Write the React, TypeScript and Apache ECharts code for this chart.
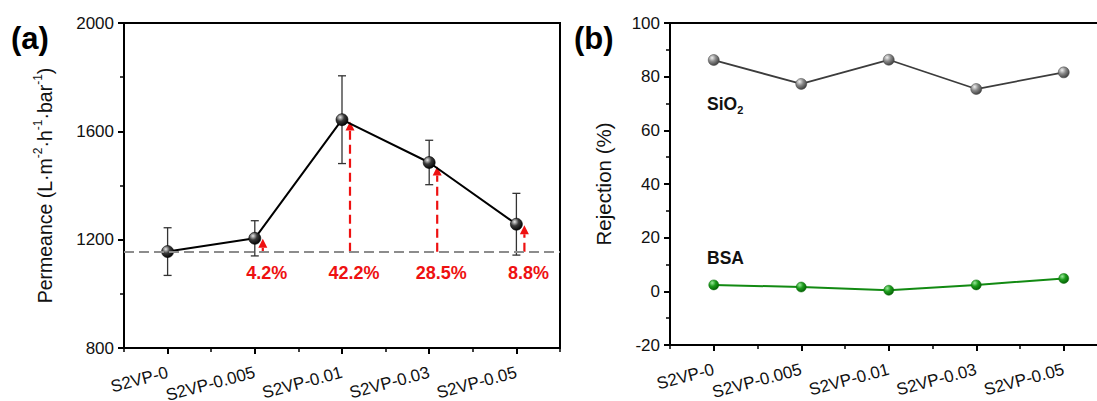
import React, { useEffect, useRef } from "react";
import * as echarts from "echarts";

const categories = ["S2VP-0", "S2VP-0.005", "S2VP-0.01", "S2VP-0.03", "S2VP-0.05"];
const permeance = [1156, 1205, 1643, 1485, 1257];
const permeanceErr = [88, 65, 162, 82, 114];
const baseline = 1155;
const arrowCats = [1, 2, 3, 4];
const arrowTops = [1203, 1636, 1470, 1253];
const increaseLabels = ["4.2%", "42.2%", "28.5%", "8.8%"];
const sio2Rejection = [86.2, 77.3, 86.3, 75.4, 81.6];
const bsaRejection = [2.4, 1.6, 0.4, 2.4, 4.8];

const FONT = "'Liberation Sans', Arial, sans-serif";
const RED = "#ee1111";

const GA = { left: 124, top: 23, width: 436, height: 325 };
const GB = { left: 670, top: 23, width: 437.5, height: 322 };

const sphere = (light: string, mid: string, dark: string) =>
  new echarts.graphic.RadialGradient(0.35, 0.3, 0.75, [
    { offset: 0, color: light },
    { offset: 0.45, color: mid },
    { offset: 1, color: dark },
  ]);

const lineBlack = { show: true, onZero: false, lineStyle: { color: "#000", width: 2 } };

const mainX = (gridIndex: number) => ({
  gridIndex,
  type: "category",
  data: categories,
  boundaryGap: true,
  axisLine: lineBlack,
  splitLine: { show: false },
  axisTick: { show: true, alignWithLabel: true, length: 6, lineStyle: { color: "#000", width: 2 } },
  axisLabel: { rotate: 15, fontSize: 17, margin: 24, color: "#111", fontFamily: FONT },
});

const minorX = (gridIndex: number) => ({
  gridIndex,
  type: "category",
  data: categories,
  position: "bottom",
  boundaryGap: true,
  axisLine: { show: false, onZero: false },
  axisTick: { show: true, alignWithLabel: false, length: 4, lineStyle: { color: "#000", width: 1.5 } },
  axisLabel: { show: false },
  splitLine: { show: false },
});

const bar = (x: number, y: number, width: number, height: number) => ({
  type: "rect",
  x,
  y,
  shape: { x: 0, y: 0, width, height },
  style: { fill: "#000", stroke: "#000", lineWidth: 0 },
});

export default function App() {
  const ref = useRef<HTMLDivElement>(null);
  useEffect(() => {
    const chart = echarts.init(ref.current!, null, { renderer: "svg" });
    const labelLevel = 1076;
    const option: any = {
      animation: false,
      backgroundColor: "#fff",
      textStyle: { fontFamily: FONT },
      grid: [
        { ...GA, containLabel: false, outerBoundsMode: "none" },
        { ...GB, containLabel: false, outerBoundsMode: "none" },
      ],
      xAxis: [mainX(0), minorX(0), mainX(1), minorX(1)],
      yAxis: [
        {
          gridIndex: 0,
          type: "value",
          min: 800,
          max: 2000,
          interval: 400,
          axisLine: lineBlack,
          splitLine: { show: false },
          axisTick: { show: true, length: 6, lineStyle: { color: "#000", width: 2 } },
          minorTick: { show: true, splitNumber: 2, length: 4, lineStyle: { color: "#000", width: 1.5 } },
          axisLabel: { fontSize: 17, margin: 10, color: "#111", fontFamily: FONT, formatter: (v: number) => String(v) },
          name: "Permeance (L·m{sup|-2}·h{sup|-1}·bar{sup|-1})",
          nameLocation: "middle",
          nameGap: 66,
          nameTextStyle: {
            fontSize: 19.5,
            color: "#111",
            fontFamily: FONT,
            lineHeight: 26,
            rich: { sup: { fontSize: 12, lineHeight: 12, verticalAlign: "top", color: "#111", fontFamily: FONT } },
          },
        },
        {
          gridIndex: 1,
          type: "value",
          min: -20,
          max: 100,
          interval: 20,
          axisLine: lineBlack,
          splitLine: { show: false },
          axisTick: { show: true, length: 6, lineStyle: { color: "#000", width: 2 } },
          minorTick: { show: true, splitNumber: 2, length: 4, lineStyle: { color: "#000", width: 1.5 } },
          axisLabel: { fontSize: 17, margin: 10, color: "#111", fontFamily: FONT, formatter: (v: number) => String(v) },
          name: "Rejection (%)",
          nameLocation: "middle",
          nameGap: 56,
          nameTextStyle: { fontSize: 20.5, color: "#111", fontFamily: FONT },
        },
      ],
      series: [
        {
          type: "custom",
          xAxisIndex: 0,
          yAxisIndex: 0,
          z: 2,
          data: categories.map((_, i) => [i, permeance[i] - permeanceErr[i], permeance[i] + permeanceErr[i]]),
          renderItem: (_p: any, api: any) => {
            const lo = api.coord([api.value(0), api.value(1)]);
            const hi = api.coord([api.value(0), api.value(2)]);
            const w = 4;
            const st = { stroke: "#333", lineWidth: 1.3 };
            return {
              type: "group",
              children: [
                { type: "line", shape: { x1: hi[0], y1: hi[1], x2: lo[0], y2: lo[1] }, style: st },
                { type: "line", shape: { x1: hi[0] - w, y1: hi[1], x2: hi[0] + w, y2: hi[1] }, style: st },
                { type: "line", shape: { x1: lo[0] - w, y1: lo[1], x2: lo[0] + w, y2: lo[1] }, style: st },
              ],
            };
          },
        },
        {
          type: "line",
          xAxisIndex: 0,
          yAxisIndex: 0,
          z: 4,
          data: permeance,
          symbol: "circle",
          symbolSize: 12,
          lineStyle: { color: "#000", width: 2 },
          itemStyle: { color: sphere("#e8e8e8", "#3a3a3a", "#000"), borderColor: "#000", borderWidth: 0.6 },
          markLine: {
            silent: true,
            symbol: "none",
            label: { show: false },
            lineStyle: { type: [10, 5], color: "#8c8c8c", width: 2 },
            data: [{ yAxis: baseline }],
          },
        },
        {
          type: "custom",
          xAxisIndex: 0,
          yAxisIndex: 0,
          z: 3,
          data: arrowCats.map((c, k) => [c, baseline, arrowTops[k]]),
          renderItem: (_p: any, api: any) => {
            const b = api.coord([api.value(0), api.value(1)]);
            const t = api.coord([api.value(0), api.value(2)]);
            const x = b[0] + 8;
            const head = 9;
            const hw = 4.5;
            return {
              type: "group",
              children: [
                {
                  type: "line",
                  shape: { x1: x, y1: b[1], x2: x, y2: t[1] + head },
                  style: { stroke: RED, lineWidth: 2.2, lineDash: [9, 5] },
                },
                {
                  type: "polygon",
                  shape: { points: [[x, t[1]], [x - hw, t[1] + head], [x + hw, t[1] + head]] },
                  style: { fill: RED },
                },
              ],
            };
          },
        },
        {
          type: "custom",
          xAxisIndex: 0,
          yAxisIndex: 0,
          z: 3,
          data: arrowCats.map((c) => [c, labelLevel]),
          renderItem: (p: any, api: any) => {
            const pt = api.coord([api.value(0), api.value(1)]);
            return {
              type: "text",
              x: pt[0] + 12,
              y: pt[1],
              style: {
                text: increaseLabels[p.dataIndex],
                fill: RED,
                font: `bold 18px ${FONT}`,
                align: "center",
                verticalAlign: "middle",
              },
            };
          },
        },
        {
          type: "line",
          xAxisIndex: 2,
          yAxisIndex: 1,
          z: 4,
          data: sio2Rejection,
          symbol: "circle",
          symbolSize: 11,
          lineStyle: { color: "#3c3c3c", width: 1.8 },
          itemStyle: { color: sphere("#f0f0f0", "#8a8a8a", "#3a3a3a"), borderColor: "#444", borderWidth: 0.5 },
        },
        {
          type: "line",
          xAxisIndex: 2,
          yAxisIndex: 1,
          z: 4,
          data: bsaRejection,
          symbol: "circle",
          symbolSize: 10,
          lineStyle: { color: "#128a12", width: 2 },
          itemStyle: { color: sphere("#9be89b", "#1c9c1c", "#035d03"), borderColor: "#0a6a0a", borderWidth: 0.5 },
        },
      ],
      graphic: [
        bar(GA.left - 1, GA.top - 1, GA.width + 2, 2),
        bar(GA.left + GA.width - 1, GA.top - 1, 2, GA.height + 2),
        bar(GB.left - 1, GB.top - 1, GB.width + 2, 2),
        {
          type: "text",
          x: 11,
          y: 38,
          style: { text: "(a)", font: `bold 31px ${FONT}`, fill: "#000", align: "left", verticalAlign: "middle" },
        },
        {
          type: "text",
          x: 574,
          y: 38,
          style: { text: "(b)", font: `bold 31px ${FONT}`, fill: "#000", align: "left", verticalAlign: "middle" },
        },
        {
          type: "text",
          x: 707,
          y: 104,
          style: {
            text: "{m|SiO}{s|2}",
            align: "left",
            verticalAlign: "middle",
            rich: {
              m: { fontSize: 17.5, fontWeight: "bold", fontFamily: FONT, fill: "#111", lineHeight: 22 },
              s: { fontSize: 11, fontWeight: "bold", fontFamily: FONT, fill: "#111", lineHeight: 11, verticalAlign: "bottom" },
            },
          },
        },
        {
          type: "text",
          x: 707,
          y: 258,
          style: { text: "BSA", font: `bold 17.5px ${FONT}`, fill: "#111", align: "left", verticalAlign: "middle" },
        },
      ],
    };
    chart.setOption(option);
    return () => chart.dispose();
  }, []);
  return (
    <div
      ref={ref}
      style={{ position: "fixed", left: 0, top: 0, width: 1097, height: 401, background: "#fff" }}
    />
  );
}
